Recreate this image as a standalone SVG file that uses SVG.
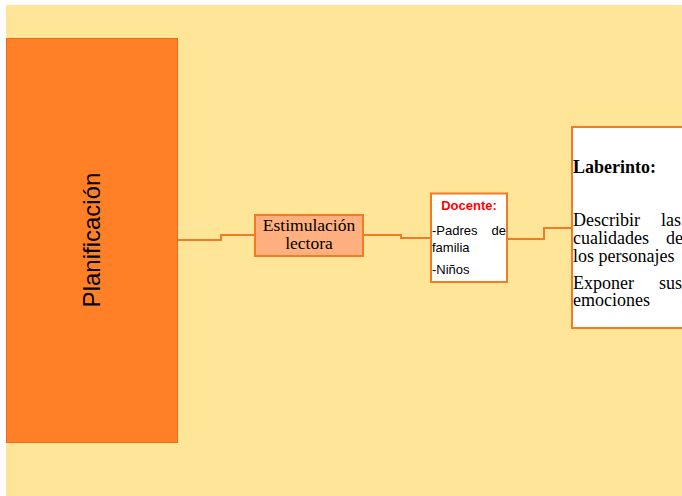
<svg xmlns="http://www.w3.org/2000/svg" width="682" height="496" viewBox="0 0 682 496">
  <style>
    .wire { fill: none; stroke: #F47B25; stroke-width: 2; }
    .serif { font-family: "Liberation Serif", "Times New Roman", serif; fill: #000; }
    .sans { font-family: "Liberation Sans", Arial, sans-serif; fill: #000; }
    .body { font-size: 18px; }
    .small { font-size: 13px; }
  </style>
  <rect x="0" y="0" width="682" height="496" fill="#FFFFFF"/>
  <rect x="6" y="5" width="676" height="491" fill="#FFE597"/>

  <g id="connectors">
    <polyline class="wire" points="178,240 221,240 221,235 255,235"/>
    <polyline class="wire" points="363,235 401,235 401,238 431,238"/>
    <polyline class="wire" points="507,239 544,239 544,228 572,228"/>
  </g>

  <g id="planificacion">
    <rect x="6.5" y="38.5" width="171" height="404" fill="#FF8027" stroke="#F06A1E" stroke-width="1"/>
    <text class="sans" x="0" y="0" font-size="24" text-anchor="middle" transform="translate(100 240) rotate(-90)">Planificación</text>
  </g>

  <g id="estimulacion">
    <rect x="255" y="215" width="108" height="41" fill="#FFB07E" stroke="#F47B25" stroke-width="2"/>
    <text class="serif" x="309" y="231" font-size="17.5" text-anchor="middle">Estimulación</text>
    <text class="serif" x="309" y="249" font-size="17.5" text-anchor="middle">lectora</text>
  </g>

  <g id="docente">
    <rect x="431" y="193.5" width="76" height="88.5" fill="#FFFFFF" stroke="#F47B25" stroke-width="2"/>
    <text class="sans" x="469" y="210" font-size="13" font-weight="bold" text-anchor="middle" style="fill:#FF0000">Docente:</text>
    <text class="sans small" x="432" y="235">-Padres</text>
    <text class="sans small" x="506" y="235" text-anchor="end">de</text>
    <text class="sans small" x="432" y="252">familia</text>
    <text class="sans small" x="432" y="274">-Niños</text>
  </g>

  <g id="laberinto">
    <rect x="572" y="127" width="120" height="201" fill="#FFFFFF" stroke="#F47B25" stroke-width="2"/>
    <text class="serif" x="573" y="173" font-size="18" font-weight="bold">Laberinto:</text>
    <text class="serif body" x="573" y="226">Describir</text>
    <text class="serif body" x="661" y="226">las</text>
    <text class="serif body" x="573" y="244">cualidades</text>
    <text class="serif body" x="666" y="244">de</text>
    <text class="serif body" x="573" y="262">los personajes</text>
    <text class="serif body" x="573" y="289">Exponer</text>
    <text class="serif body" x="659" y="289">sus</text>
    <text class="serif body" x="573" y="306">emociones</text>
  </g>
</svg>
